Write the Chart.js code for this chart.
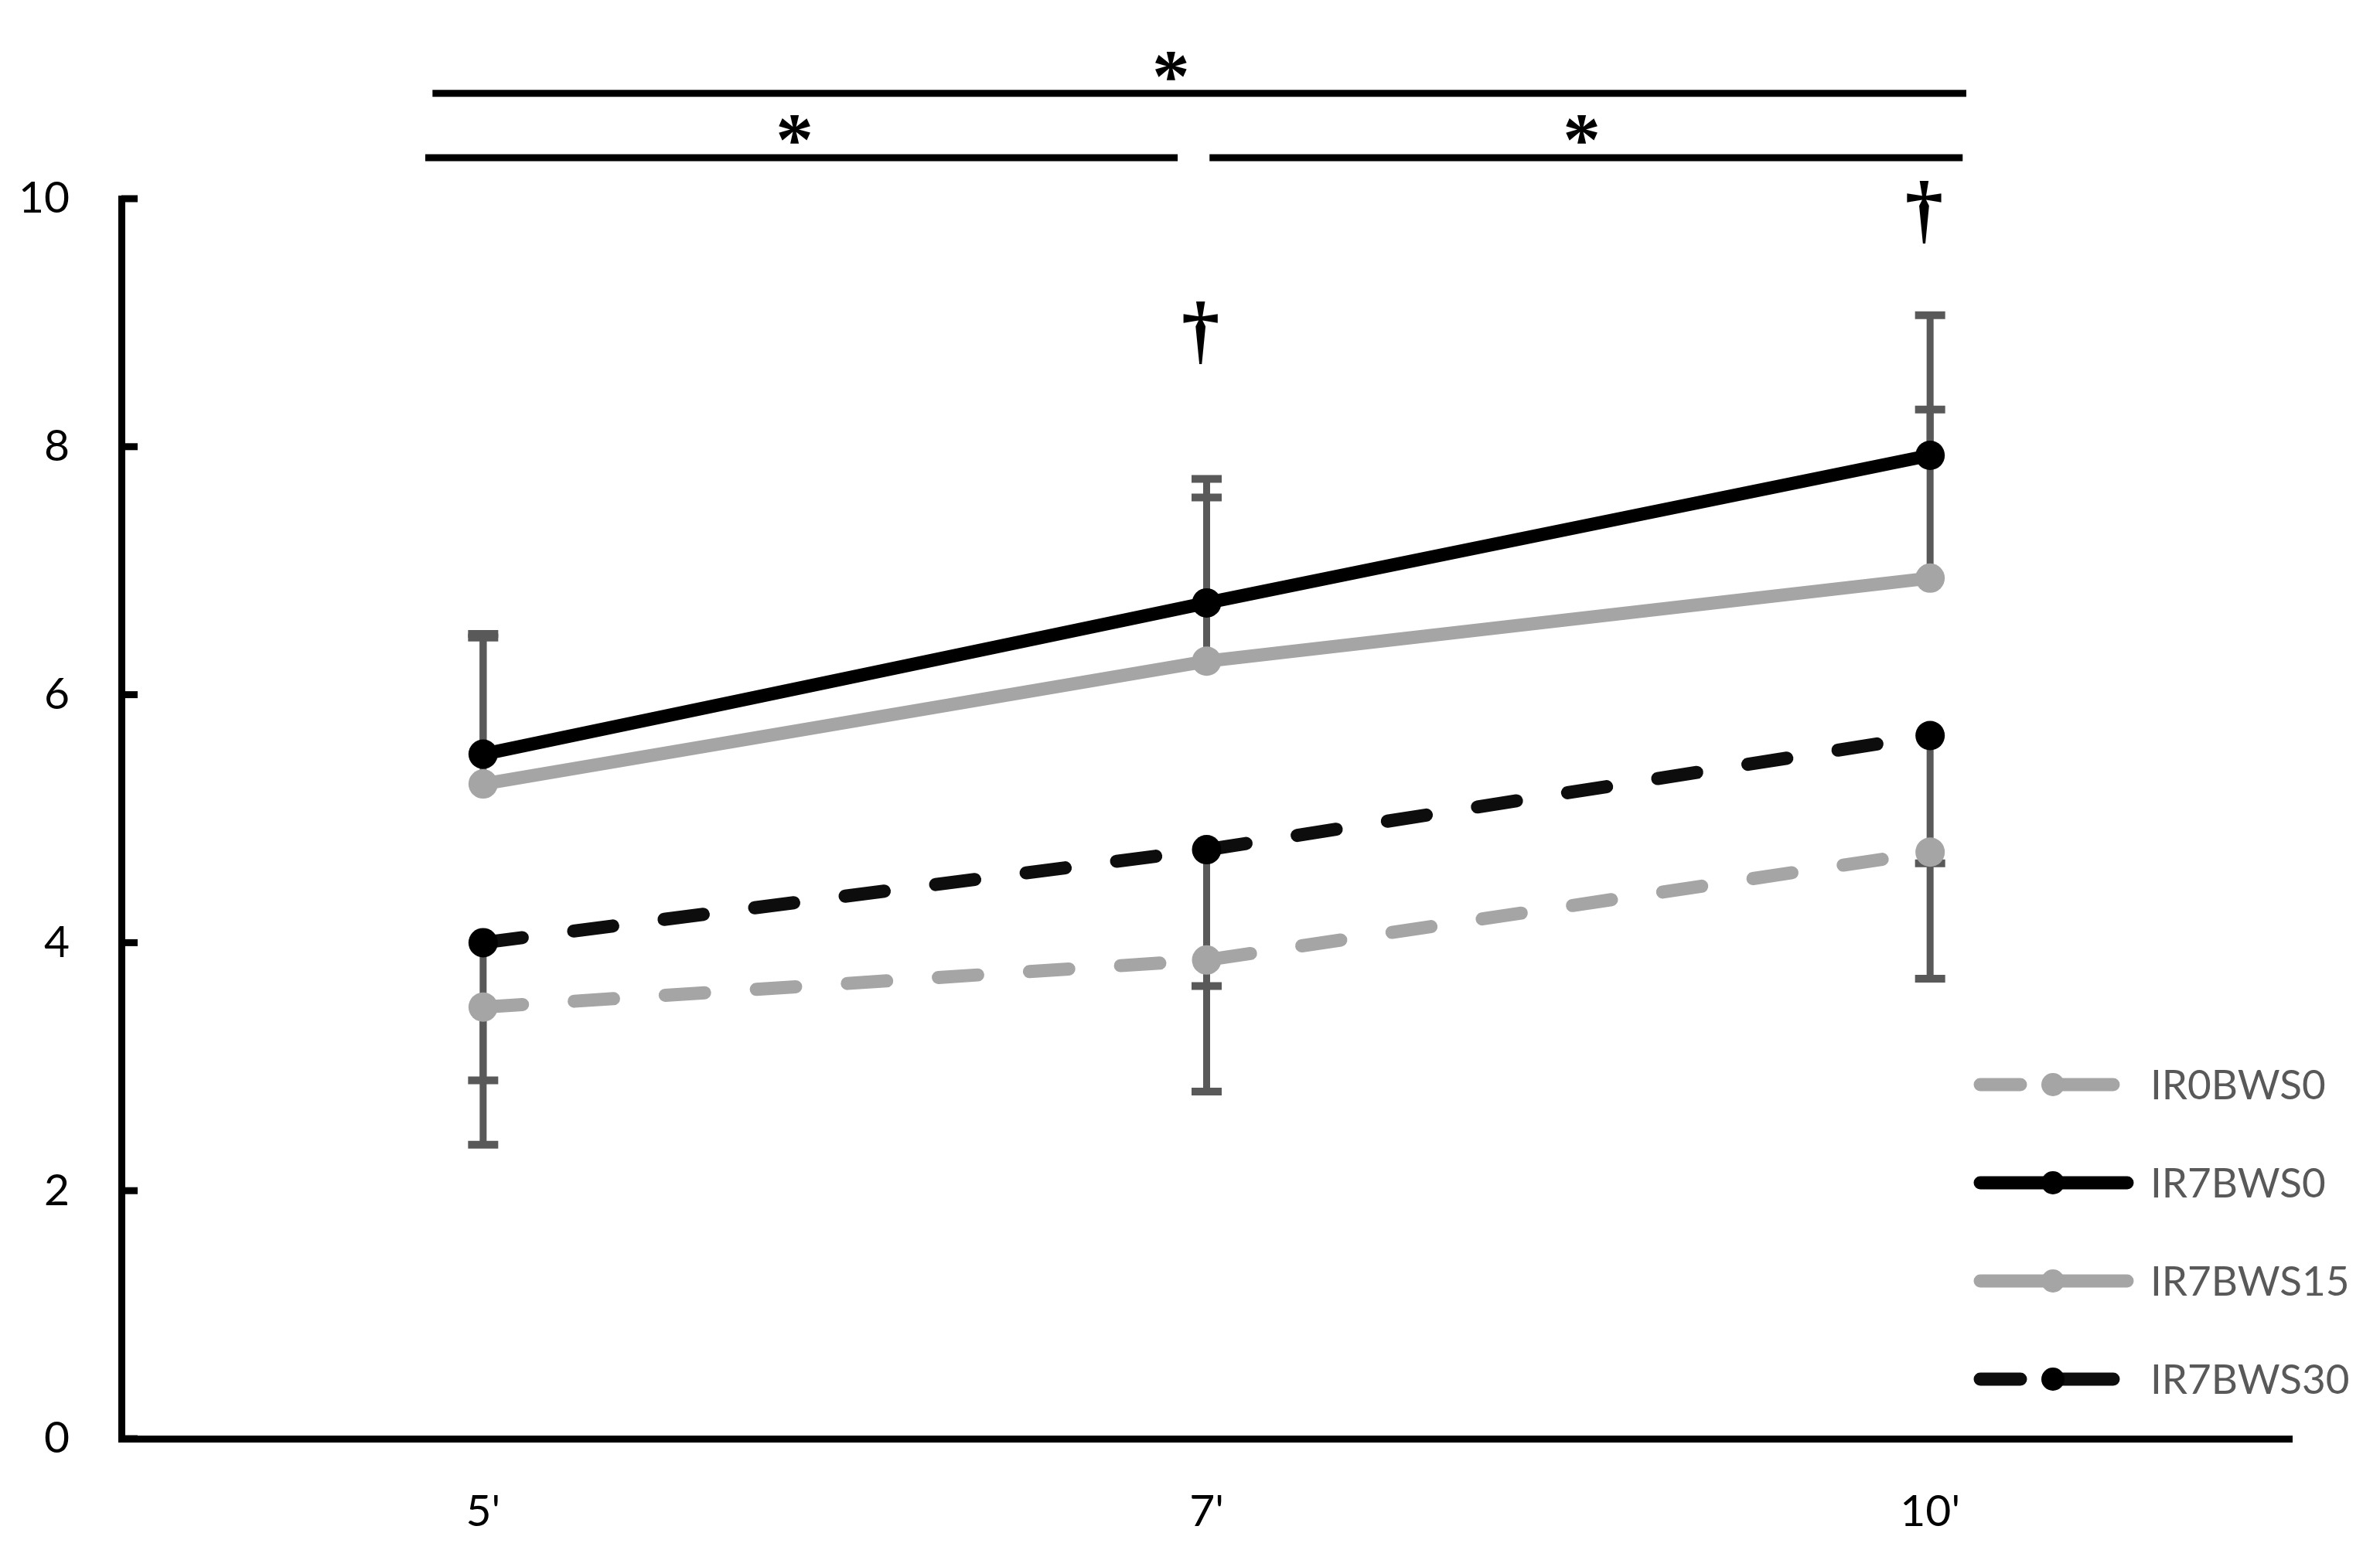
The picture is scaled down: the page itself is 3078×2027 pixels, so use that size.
<!DOCTYPE html>
<html>
<head>
<meta charset="utf-8">
<script src="https://cdn.jsdelivr.net/npm/chart.js@4.4.0/dist/chart.umd.min.js"></script>
<style>
  html, body { margin: 0; padding: 0; background: #fff; }
  #wrap { width: 3078px; height: 2027px; }
</style>
</head>
<body>
<div id="wrap"><canvas id="chart"></canvas></div>
<script>
// categories and values
const timeLabels = ["5'", "7'", "10'"];
const seriesNames = ['IR0BWS0', 'IR7BWS0', 'IR7BWS15', 'IR7BWS30'];
const ir0bws0 = [3.48, 3.86, 4.73];
const ir7bws0 = [5.52, 6.74, 7.93];
const ir7bws15 = [5.28, 6.27, 6.94];
const ir7bws30 = [4.00, 4.75, 5.67];
// SD bars: solid series go up, dashed series go down
const sdIr0bws0 = [1.11, 1.06, 1.02];
const sdIr7bws0 = [0.97, 1.00, 1.13];
const sdIr7bws15 = [1.18, 1.32, 1.36];
const sdIr7bws30 = [1.11, 1.10, 1.03];
const yTicks = [0, 2, 4, 6, 8, 10];

// significance marks (in category / value units)
const brackets = [
    { from: -0.07, to: 2.05, level: 10.85, star: 0.955, starLevel: 11.07 },
    { from: -0.08, to: 0.96, level: 10.33, star: 0.435, starLevel: 10.56 },
    { from: 1.004, to: 2.045, level: 10.33, star: 1.523, starLevel: 10.56 }
];
const daggers = [ { at: 1, level: 8.92 }, { at: 2, level: 9.89 } ];

const GRAY = '#A5A5A5';
const BAR = '#595959';

const seriesStyle = [
    { line: GRAY, marker: GRAY, dashed: true, sd: sdIr0bws0, dir: -1 },
    { line: '#000000', marker: '#000000', dashed: false, sd: sdIr7bws0, dir: 1 },
    { line: GRAY, marker: GRAY, dashed: false, sd: sdIr7bws15, dir: 1 },
    { line: '#0D0D0D', marker: '#000000', dashed: true, sd: sdIr7bws30, dir: -1 }
];
const seriesData = [ir0bws0, ir7bws0, ir7bws15, ir7bws30];

function drawGlyph(ctx, ch, cx, cy, targetH) {
    ctx.font = 'bold 100px "Liberation Serif"';
    let m = ctx.measureText(ch);
    const size = 100 * targetH / (m.actualBoundingBoxAscent + m.actualBoundingBoxDescent);
    ctx.font = 'bold ' + size + 'px "Liberation Serif"';
    m = ctx.measureText(ch);
    ctx.textAlign = 'left';
    ctx.textBaseline = 'alphabetic';
    const x = cx - (m.actualBoundingBoxRight - m.actualBoundingBoxLeft) / 2 + m.actualBoundingBoxLeft;
    const y = cy + (m.actualBoundingBoxAscent - m.actualBoundingBoxDescent) / 2;
    ctx.fillText(ch, x, y);
}

const errorBars = {
    id: 'errorBars',
    beforeDatasetsDraw(chart) {
        const ctx = chart.ctx, xs = chart.scales.x, ys = chart.scales.y;
        ctx.save();
        ctx.strokeStyle = BAR;
        ctx.lineCap = 'butt';
        seriesStyle.forEach((st, i) => {
            seriesData[i].forEach((v, j) => {
                const x = xs.getPixelForValue(j);
                const y0 = ys.getPixelForValue(v);
                const y1 = ys.getPixelForValue(v + st.dir * st.sd[j]);
                ctx.lineWidth = 9;
                ctx.beginPath(); ctx.moveTo(x, y0); ctx.lineTo(x, y1); ctx.stroke();
                ctx.lineWidth = 10;
                ctx.beginPath(); ctx.moveTo(x - 19.5, y1); ctx.lineTo(x + 19.5, y1); ctx.stroke();
            });
        });
        ctx.restore();
    }
};

const extras = {
    id: 'extras',
    afterDraw(chart) {
        const ctx = chart.ctx, xs = chart.scales.x, ys = chart.scales.y;
        const area = chart.chartArea;
        ctx.save();
        // inward ticks on the y axis
        ctx.strokeStyle = '#000';
        ctx.lineWidth = 9;
        yTicks.forEach(v => {
            const y = ys.getPixelForValue(v);
            ctx.beginPath(); ctx.moveTo(area.left, y); ctx.lineTo(area.left + 21, y); ctx.stroke();
        });

        // brackets with stars
        ctx.fillStyle = '#000';
        brackets.forEach(b => {
            const y = ys.getPixelForValue(b.level);
            ctx.lineWidth = 9;
            ctx.beginPath();
            ctx.moveTo(xs.getPixelForValue(b.from), y);
            ctx.lineTo(xs.getPixelForValue(b.to), y);
            ctx.stroke();
            drawGlyph(ctx, '*', xs.getPixelForValue(b.star), ys.getPixelForValue(b.starLevel), 37);
        });
        daggers.forEach(d => {
            drawGlyph(ctx, '\u2020', xs.getPixelForValue(d.at) - 6, ys.getPixelForValue(d.level), 80);
        });

        // legend inside plot, bottom right
        const lx0 = 2561, lx1 = 2751, mx = 2655;
        seriesNames.forEach((name, i) => {
            const st = seriesStyle[i];
            const y = 1403 + i * 127;
            ctx.strokeStyle = st.line;
            ctx.lineWidth = 17;
            ctx.lineCap = 'round';
            ctx.beginPath();
            if (st.dashed) {
                ctx.moveTo(lx0, y); ctx.lineTo(2613, y);
                ctx.moveTo(2650, y); ctx.lineTo(2733, y);
            } else {
                ctx.moveTo(lx0, y); ctx.lineTo(lx1, y);
            }
            ctx.stroke();
            ctx.fillStyle = st.marker;
            ctx.beginPath(); ctx.arc(mx, y, 15, 0, Math.PI * 2); ctx.fill();
            ctx.fillStyle = BAR;
            ctx.font = '53px Lato';
            ctx.textAlign = 'left';
            ctx.textBaseline = 'middle';
            ctx.fillText(name, 2781, y + 2);
        });
        ctx.restore();
    }
};

new Chart(document.getElementById('chart'), {
    type: 'line',
    data: {
        labels: timeLabels,
        datasets: seriesNames.map((name, i) => ({
            label: name,
            data: seriesData[i],
            borderColor: seriesStyle[i].line,
            borderWidth: 17,
            borderDash: seriesStyle[i].dashed ? [51, 67] : [],
            borderCapStyle: 'round',
            borderJoinStyle: 'round',
            pointRadius: 19,
            pointHoverRadius: 19,
            pointBorderWidth: 0,
            pointBackgroundColor: seriesStyle[i].marker,
            fill: false,
            tension: 0
        }))
    },
    plugins: [errorBars, extras],
    options: {
        responsive: true,
        maintainAspectRatio: false,
        animation: false,
        devicePixelRatio: 1,
        layout: { padding: { top: 257, right: 114, bottom: 0, left: 0 } },
        scales: {
            x: {
                type: 'category',
                offset: true,
                grid: { display: false, drawTicks: false },
                border: { display: true, color: '#000', width: 9 },
                ticks: { color: '#000', font: { family: 'Lato', size: 57 }, padding: 60 },
                afterFit: s => { s.height = 166; }
            },
            y: {
                min: 0,
                max: 10,
                afterBuildTicks: s => { s.ticks = yTicks.map(v => ({ value: v })); },
                grid: { display: false, drawTicks: false },
                border: { display: true, color: '#000', width: 9 },
                ticks: { color: '#000', font: { family: 'Lato', size: 57 }, padding: 67 },
                afterFit: s => { s.width = 157; }
            }
        },
        plugins: {
            legend: { display: false },
            tooltip: { enabled: false }
        }
    }
});
</script>
</body>
</html>
